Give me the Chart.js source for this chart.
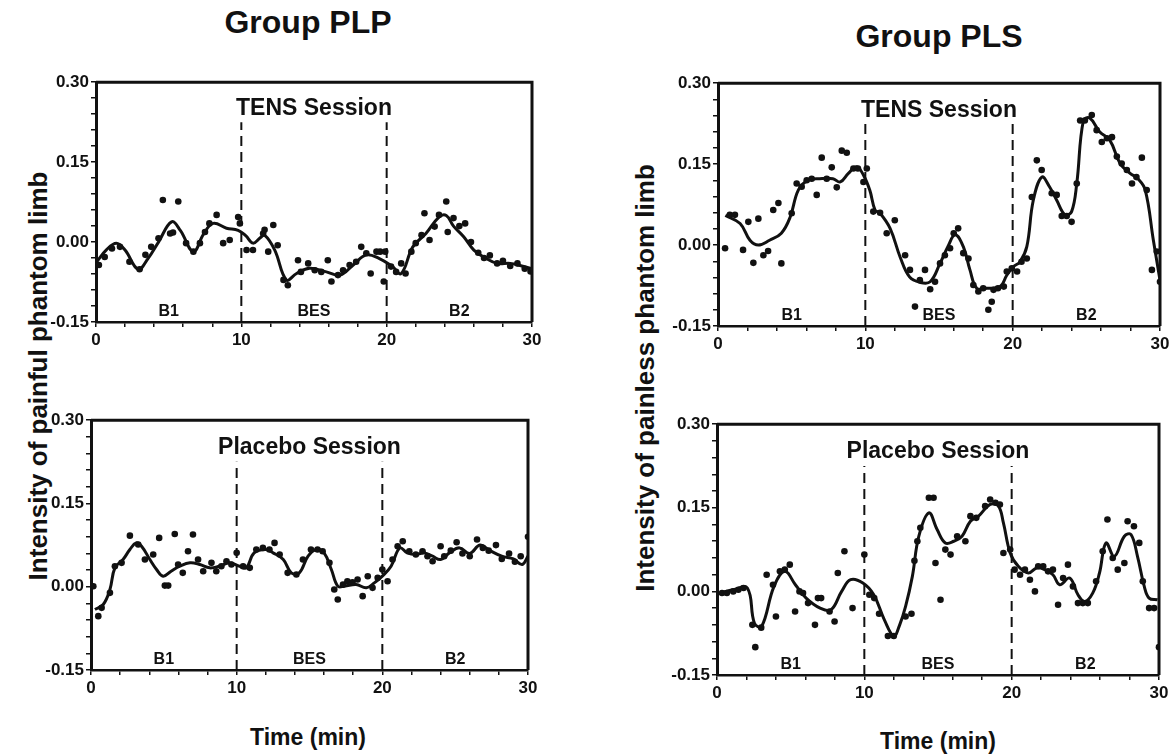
<!DOCTYPE html>
<html>
<head>
<meta charset="utf-8">
<script src="https://cdn.jsdelivr.net/npm/chart.js@4.4.0/dist/chart.umd.min.js"></script>
<style>
  html, body { margin: 0; padding: 0; background: #fff; }
  body { width: 1176px; height: 755px; position: relative; overflow: hidden;
         font-family: "Liberation Sans", Arial, sans-serif; color: #111; }
  canvas { position: absolute; }
  .lbl { position: absolute; font-weight: bold; white-space: nowrap; transform: translate(-50%, -50%); }
  .rot { transform: translate(-50%, -50%) rotate(-90deg); }
</style>
</head>
<body>
<div class="lbl" style="left:308px; top:22px; font-size:32px;">Group PLP</div>
<div class="lbl" style="left:939px; top:36px; font-size:32px;">Group PLS</div>
<div class="lbl rot" style="left:38px; top:376px; font-size:26px;">Intensity of painful phantom limb</div>
<div class="lbl rot" style="left:645px; top:378px; font-size:26px;">Intensity of painless phantom limb</div>
<div class="lbl" style="left:308px; top:737px; font-size:23px;">Time (min)</div>
<div class="lbl" style="left:938px; top:741px; font-size:23px;">Time (min)</div>

<canvas id="tl"></canvas>
<canvas id="tr"></canvas>
<canvas id="bl"></canvas>
<canvas id="br"></canvas>

<script>
// phases and axis setup
var phaseNames = ['B1', 'BES', 'B2'];
var phaseMid = [5, 15, 25];
var phaseBounds = [10, 20];
var sessionAt = [15, 0.25];
var yTicksMajor = [-0.15, 0.00, 0.15, 0.30];
var xTicksMajor = [0, 10, 20, 30];

// Group PLP, TENS session (top left)
var tlDotT = [0.2,0.6,1.1,1.65,2.3,3.0,3.4,3.8,4.3,4.6,5.1,5.3,5.66,6.2,6.7,7.15,7.5,7.8,8.3,8.75,9.2,9.78,9.9,10.36,10.8,11.5,11.6,11.85,12.2,12.5,12.9,13.2,13.9,14.1,14.6,15.05,15.5,15.95,16.2,16.65,17.0,17.45,17.9,18.25,18.6,18.9,19.3,19.55,19.8,19.9,20.3,20.65,21.0,21.3,21.7,22.0,22.4,22.6,22.95,23.3,23.6,24.1,24.2,24.6,25.0,25.4,25.8,26.3,26.7,27.1,27.6,28.0,28.5,29.0,29.5,29.9];
var tlDotV = [-0.043,-0.028,-0.012,-0.009,-0.037,-0.051,-0.024,-0.009,0.007,0.079,0.016,0.018,0.076,-0.002,-0.018,-0.002,0.019,0.035,0.051,-0.002,0.004,0.047,0.035,-0.015,-0.015,0.016,0.023,-0.018,0.032,-0.006,-0.071,-0.081,-0.034,-0.056,-0.040,-0.053,-0.056,-0.034,-0.074,-0.062,-0.053,-0.043,-0.037,-0.009,-0.021,-0.059,-0.018,-0.018,-0.074,-0.018,-0.046,-0.056,-0.040,-0.059,-0.018,-0.002,0.013,0.054,0.004,0.029,0.051,0.076,0.019,0.045,0.030,0.035,0.000,-0.020,-0.030,-0.025,-0.040,-0.035,-0.045,-0.040,-0.050,-0.055];
var tlCurveT = [0.05,0.7,1.4,2.0,2.9,3.6,4.3,5.2,5.8,6.7,7.4,8.06,8.98,9.78,10.3,10.8,11.3,11.6,12.3,13.1,13.8,14.7,15.85,16.8,17.7,18.6,19.5,20.4,21.0,21.8,22.7,23.6,24.1,24.6,25.3,26.0,26.8,27.6,28.5,29.3,30.0];
var tlCurveV = [-0.037,-0.015,-0.002,-0.015,-0.051,-0.030,0.000,0.038,0.022,-0.018,0.015,0.035,0.026,0.022,0.012,-0.002,0.008,0.013,-0.015,-0.071,-0.059,-0.049,-0.056,-0.062,-0.043,-0.024,-0.031,-0.046,-0.059,-0.009,0.016,0.047,0.050,0.030,0.010,-0.015,-0.030,-0.040,-0.040,-0.045,-0.050];

// Group PLS, TENS session (top right)
var trDotT = [0.48,0.8,1.15,1.7,2.06,2.4,2.74,3.08,3.4,3.75,4.1,4.3,5.0,5.34,5.68,6.02,6.36,6.7,7.04,7.38,7.72,8.06,8.4,8.74,9.19,9.5,9.87,10.1,10.54,11.0,11.45,12.0,12.7,13.03,13.37,13.7,14.05,14.4,14.73,15.07,15.4,15.75,16.0,16.3,16.65,17.0,17.33,17.67,18.0,18.35,18.58,18.7,19.0,19.4,19.6,19.94,20.3,20.6,20.96,21.3,21.64,21.97,22.65,22.99,23.33,23.67,24.0,24.35,24.58,24.9,25.37,25.7,26.05,26.4,26.74,27.07,27.4,27.75,28.1,28.4,28.77,29.1,29.45,29.78,30.0];
var trDotV = [-0.006,0.056,0.056,-0.009,0.043,-0.033,0.049,-0.019,-0.011,0.065,0.078,-0.034,0.059,0.114,0.108,0.120,0.123,0.093,0.162,0.123,0.144,0.107,0.175,0.171,0.142,0.142,0.117,0.142,0.062,0.060,0.022,0.046,-0.019,-0.046,-0.114,-0.065,-0.046,-0.082,-0.068,-0.034,-0.019,-0.006,0.022,0.031,-0.015,-0.025,-0.074,-0.086,-0.080,-0.120,-0.105,-0.083,-0.080,-0.077,-0.049,-0.043,-0.049,-0.031,-0.025,0.089,0.157,0.139,0.096,0.093,0.054,0.054,0.043,0.114,0.231,0.231,0.241,0.213,0.191,0.198,0.200,0.164,0.151,0.139,0.114,0.126,0.162,0.102,-0.046,-0.012,-0.068];
var trCurveT = [0.5,1.5,2.17,2.74,3.5,4.3,4.9,5.45,6.1,6.9,7.8,8.3,8.85,9.4,9.87,10.3,10.66,11.0,11.68,12.36,13.0,13.7,14.4,15.07,15.6,16.1,16.65,17.1,17.56,18.24,19.15,19.6,20.05,20.5,20.96,21.4,21.98,22.5,22.99,23.56,24.0,24.35,24.8,25.25,25.9,26.6,27.3,27.97,28.5,29.0,29.55,30.0];
var trCurveV = [0.055,0.040,0.009,0.000,0.009,0.022,0.052,0.102,0.120,0.123,0.123,0.117,0.133,0.145,0.130,0.102,0.065,0.059,0.031,-0.022,-0.059,-0.069,-0.068,-0.034,-0.003,0.019,-0.003,-0.046,-0.080,-0.080,-0.077,-0.056,-0.040,-0.031,-0.003,0.083,0.126,0.108,0.083,0.056,0.062,0.114,0.231,0.235,0.210,0.194,0.151,0.133,0.123,0.102,0.009,-0.065];

// Group PLP, placebo session (bottom left)
var blDotT = [0.16,0.5,0.73,1.3,1.64,2.1,2.67,3.24,3.7,4.27,4.68,5.07,5.3,5.75,5.98,6.3,6.66,7.0,7.35,7.7,8.27,8.6,8.95,9.3,9.64,10.0,10.44,10.9,11.35,11.8,12.25,12.6,12.95,13.5,14.1,14.55,15.1,15.55,15.9,16.37,16.7,16.94,17.3,17.6,17.95,18.3,18.65,19.0,19.33,19.68,20.0,20.36,20.7,21.05,21.4,21.85,22.3,22.76,23.1,23.45,24.0,24.25,24.7,25.1,25.5,26.0,26.5,26.9,27.3,27.8,28.2,28.7,29.1,29.5,30.0];
var blDotV = [0.001,-0.053,-0.038,-0.011,0.037,0.043,0.092,0.076,0.049,0.058,0.088,0.002,0.002,0.095,0.040,0.025,0.064,0.094,0.049,0.028,0.043,0.028,0.037,0.046,0.040,0.061,0.037,0.034,0.067,0.070,0.067,0.079,0.058,0.025,0.022,0.049,0.067,0.067,0.064,0.043,-0.005,-0.023,0.004,0.010,0.008,0.013,-0.017,0.019,-0.002,0.016,0.031,0.010,0.049,0.073,0.082,0.064,0.058,0.064,0.055,0.046,0.073,0.055,0.065,0.080,0.060,0.055,0.085,0.070,0.065,0.075,0.050,0.060,0.045,0.055,0.090];
var blCurveT = [0.27,0.84,1.3,1.64,2.2,2.67,3.1,3.47,4.04,4.5,4.95,5.5,6.1,6.8,7.47,8.15,8.8,9.5,10.2,10.66,11.2,12.0,12.5,13.2,13.75,14.3,14.9,15.46,16.0,16.5,16.94,17.4,18.2,18.9,19.45,20.0,20.6,21.2,21.7,22.3,22.9,23.45,24.0,24.6,25.3,26.0,26.7,27.4,28.2,29.0,29.6,30.0];
var blCurveV = [-0.041,-0.032,-0.005,0.034,0.049,0.067,0.079,0.073,0.049,0.031,0.019,0.028,0.037,0.043,0.040,0.034,0.037,0.043,0.037,0.034,0.061,0.067,0.061,0.049,0.025,0.025,0.055,0.067,0.061,0.031,0.001,0.001,0.004,-0.002,0.007,0.019,0.037,0.070,0.061,0.058,0.061,0.055,0.049,0.061,0.070,0.060,0.075,0.065,0.055,0.050,0.040,0.055];

// Group PLS, placebo session (bottom right)
var brDotT = [0.34,0.67,1.1,1.45,1.8,2.4,2.6,3.0,3.37,3.8,4.0,4.27,4.6,4.94,5.3,5.6,5.84,6.18,6.65,6.85,7.07,7.64,7.98,8.2,8.65,9.2,10.0,10.34,10.67,11.0,11.6,12.0,12.8,13.2,13.4,13.6,13.8,14.38,14.7,14.83,15.17,15.5,15.85,16.3,16.86,17.2,17.6,18.2,18.54,18.9,19.2,19.44,19.9,20.2,20.57,20.9,21.24,21.58,21.8,22.14,22.47,22.8,23.15,23.49,23.82,24.16,24.5,24.83,25.17,25.73,26.18,26.5,26.86,27.2,27.65,27.87,28.3,28.66,28.9,29.33,29.67,30.0];
var brDotV = [-0.003,-0.003,0.000,0.003,0.006,-0.060,-0.100,-0.065,0.030,0.012,-0.045,0.036,0.039,0.048,-0.036,0.000,-0.003,-0.021,-0.060,-0.012,-0.012,-0.036,-0.054,0.033,0.072,-0.030,0.066,-0.006,-0.012,-0.040,-0.080,-0.080,-0.045,-0.040,0.055,0.090,0.114,0.168,0.168,0.051,-0.015,0.075,0.066,0.099,0.090,0.135,0.132,0.153,0.165,0.159,0.156,0.069,0.075,0.039,0.030,0.039,0.021,0.000,0.045,0.045,0.036,0.039,-0.024,0.024,0.048,0.009,-0.021,-0.021,-0.021,0.018,0.072,0.129,0.060,0.039,0.051,0.126,0.117,0.087,0.018,-0.030,-0.030,-0.100];
var brCurveT = [0.22,1.1,2.06,2.54,3.03,3.87,4.6,5.32,6.05,7.0,7.74,8.46,9.07,9.9,10.64,11.36,12.0,12.4,12.8,13.26,13.7,14.38,14.94,15.5,16.07,16.63,17.2,17.75,18.54,19.1,19.44,19.9,20.45,21.13,21.7,22.25,22.8,23.26,23.94,24.5,24.95,25.5,25.96,26.4,26.97,27.65,28.1,28.54,29.0,29.33,29.9];
var brCurveV = [-0.003,0.003,0.006,-0.057,-0.063,0.009,0.036,0.012,-0.012,-0.030,-0.033,0.000,0.021,0.015,-0.006,-0.051,-0.080,-0.060,-0.027,0.027,0.099,0.141,0.111,0.087,0.090,0.099,0.126,0.135,0.156,0.153,0.123,0.069,0.045,0.033,0.042,0.039,0.030,0.012,0.024,-0.006,-0.018,-0.003,0.033,0.087,0.063,0.099,0.102,0.063,0.009,-0.012,-0.015];

function pairs(ts, vs) {
  return ts.map(function (t, i) { return { x: t, y: vs[i] } })
}

function isMajor(v, list) {
  return list.some(function (m) { return Math.abs(v - m) < 1e-6 })
}

var ink = '#111'
var fontName = '"Liberation Sans", Arial, sans-serif'

// draws the box top/right, session text and phase labels
var panelText = {
  id: 'panelText',
  afterDatasetsDraw: function (chart, args, opts) {
    var ctx = chart.ctx, a = chart.chartArea
    var x = chart.scales.x, y = chart.scales.y
    ctx.save()
    ctx.strokeStyle = ink
    ctx.lineWidth = 3
    ctx.beginPath()
    ctx.moveTo(a.left, a.top)
    ctx.lineTo(a.right, a.top)
    ctx.lineTo(a.right, a.bottom)
    ctx.stroke()
    ctx.fillStyle = ink
    ctx.textAlign = 'center'
    ctx.textBaseline = 'middle'
    ctx.font = 'bold 23px ' + fontName
    ctx.fillText(opts.session, x.getPixelForValue(sessionAt[0]), y.getPixelForValue(sessionAt[1]))
    ctx.font = 'bold 16px ' + fontName
    ctx.textBaseline = 'bottom'
    phaseNames.forEach(function (n, i) {
      ctx.fillText(n, x.getPixelForValue(phaseMid[i]), a.bottom - 2)
    })
    ctx.restore()
  }
}

var padL = 62, padT = 12, padR = 14, padB = 34

function makePanel(id, area, dotT, dotV, curveT, curveV, session) {
  var cv = document.getElementById(id)
  var w = area[2] - area[0] + padL + padR
  var h = area[3] - area[1] + padT + padB
  cv.width = w
  cv.height = h
  cv.style.left = (area[0] - padL) + 'px'
  cv.style.top = (area[1] - padT) + 'px'

  var datasets = [{
    data: pairs(dotT, dotV),
    pointRadius: 3.3,
    pointBackgroundColor: ink,
    pointBorderWidth: 0,
    showLine: false
  }, {
    data: pairs(curveT, curveV),
    showLine: true,
    pointRadius: 0,
    borderColor: ink,
    borderWidth: 3,
    tension: 0.4
  }]
  phaseBounds.forEach(function (b) {
    datasets.push({
      data: [{ x: b, y: yTicksMajor[0] }, { x: b, y: sessionAt[1] - 0.025 }],
      showLine: true,
      pointRadius: 0,
      borderColor: ink,
      borderWidth: 2,
      borderDash: [10, 6]
    })
  })

  new Chart(cv, {
    type: 'scatter',
    data: { datasets: datasets },
    options: {
      responsive: false,
      animation: false,
      devicePixelRatio: 1,
      layout: { padding: { top: padT, right: padR, left: 0, bottom: 0 } },
      plugins: { legend: { display: false }, tooltip: { enabled: false }, panelText: { session: session } },
      scales: {
        x: {
          type: 'linear', min: 0, max: 30,
          afterFit: function (s) { s.height = padB },
          border: { color: ink, width: 2.5 },
          grid: { drawOnChartArea: false, tickLength: 5, color: ink, lineWidth: 1.5 },
          ticks: {
            stepSize: 2, autoSkip: false, maxRotation: 0, padding: 3, color: ink,
            font: { family: fontName, size: 17, weight: 'bold' },
            callback: function (v) { return isMajor(v, xTicksMajor) ? String(v) : '' }
          }
        },
        y: {
          type: 'linear', min: -0.15, max: 0.30,
          afterFit: function (s) { s.width = padL },
          border: { color: ink, width: 3 },
          grid: { drawOnChartArea: false, tickLength: 5, color: ink, lineWidth: 1.5 },
          ticks: {
            stepSize: 0.03, autoSkip: false, padding: 2, color: ink,
            font: { family: fontName, size: 17, weight: 'bold' },
            callback: function (v) {
              if (!isMajor(v, yTicksMajor)) return ''
              return Math.abs(v) < 1e-9 ? '0.00' : v.toFixed(2)
            }
          }
        }
      }
    },
    plugins: [panelText]
  })
}

makePanel('tl', [96, 82, 532, 322], tlDotT, tlDotV, tlCurveT, tlCurveV, 'TENS Session')
makePanel('tr', [718, 83, 1160, 326], trDotT, trDotV, trCurveT, trCurveV, 'TENS Session')
makePanel('bl', [91, 420, 528, 670], blDotT, blDotV, blCurveT, blCurveV, 'Placebo Session')
makePanel('br', [717, 424, 1159, 675], brDotT, brDotV, brCurveT, brCurveV, 'Placebo Session')
</script>
</body>
</html>
